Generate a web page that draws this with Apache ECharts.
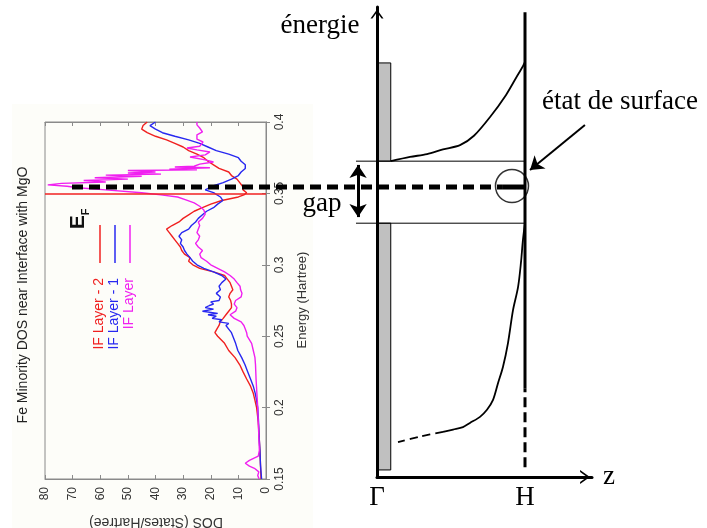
<!DOCTYPE html>
<html><head><meta charset="utf-8">
<script src="https://cdn.jsdelivr.net/npm/echarts@6/dist/echarts.min.js"></script>
<style>html,body{margin:0;padding:0;background:#fff}#c{width:707px;height:528px}</style>
</head><body><div id="c"></div>
<script>
// ---------- DOS panel data: [energy (Hartree), DOS (states/Hartree)] ----------
const ifLayer2 = [[0.150,1.8],[0.155,1.9],[0.160,2.0],[0.170,2.2],[0.180,2.5],[0.190,2.8],[0.200,3.4],[0.205,4.0],[0.210,4.6],[0.215,5.6],[0.220,7.0],[0.225,8.3],[0.230,9.5],[0.235,11.2],[0.240,13.5],[0.245,15.0],[0.250,17.5],[0.2525,18.5],[0.255,17.8],[0.2575,17.0],[0.260,16.6],[0.2625,15.5],[0.265,14.5],[0.2675,13.5],[0.270,12.5],[0.2725,12.5],[0.275,12.8],[0.2775,13.5],[0.280,13.0],[0.2825,12.0],[0.285,12.5],[0.2875,13.0],[0.290,14.0],[0.2925,15.0],[0.295,19.0],[0.2975,24.0],[0.300,26.5],[0.3025,28.0],[0.305,27.5],[0.3075,29.5],[0.310,30.5],[0.3125,31.0],[0.315,32.0],[0.3175,33.0],[0.320,34.0],[0.3225,35.0],[0.325,36.0],[0.3275,34.0],[0.330,31.5],[0.3325,30.0],[0.335,28.0],[0.3375,26.0],[0.340,23.0],[0.3425,20.0],[0.345,16.0],[0.3475,10.0],[0.349,8.0],[0.3505,7.0],[0.3525,8.3],[0.355,8.5],[0.3575,9.5],[0.360,10.5],[0.3625,12.5],[0.365,13.5],[0.3675,17.0],[0.370,19.0],[0.3725,21.0],[0.375,22.5],[0.3775,25.0],[0.380,28.0],[0.3825,30.0],[0.385,33.0],[0.3875,36.0],[0.390,40.0],[0.3925,43.0],[0.395,45.0],[0.3975,44.5],[0.400,43.0]];
const ifLayer1 = [[0.150,1.6],[0.155,1.8],[0.160,2.0],[0.170,2.2],[0.180,2.5],[0.190,2.7],[0.200,3.0],[0.205,3.4],[0.210,3.9],[0.215,4.6],[0.220,5.6],[0.225,6.6],[0.230,7.6],[0.235,8.8],[0.240,10.2],[0.245,11.0],[0.250,12.0],[0.2525,12.5],[0.255,13.5],[0.2575,14.5],[0.259,13.5],[0.260,17.0],[0.2615,16.0],[0.2625,19.5],[0.264,18.0],[0.265,21.0],[0.266,17.5],[0.2675,23.0],[0.269,19.0],[0.270,22.0],[0.2715,20.5],[0.2725,19.0],[0.274,20.0],[0.275,17.0],[0.2775,16.5],[0.280,18.0],[0.2825,16.5],[0.285,17.0],[0.2875,16.0],[0.290,14.5],[0.2925,16.0],[0.295,19.0],[0.2975,22.5],[0.300,25.0],[0.3025,26.5],[0.305,27.5],[0.3075,28.6],[0.310,29.5],[0.3125,30.0],[0.315,31.0],[0.3175,30.5],[0.320,31.5],[0.3225,30.5],[0.325,28.0],[0.3275,27.0],[0.330,25.5],[0.3325,24.5],[0.335,23.0],[0.3375,21.5],[0.340,19.0],[0.3425,17.5],[0.345,15.6],[0.3475,16.5],[0.3505,19.0],[0.3525,22.0],[0.355,19.5],[0.3575,15.5],[0.360,12.5],[0.3625,10.0],[0.365,9.0],[0.3675,7.5],[0.370,7.5],[0.3725,9.0],[0.375,10.0],[0.3775,13.5],[0.380,18.0],[0.3825,21.0],[0.385,24.0],[0.3875,28.0],[0.390,33.0],[0.3925,37.5],[0.395,40.0],[0.3975,42.0],[0.400,40.0]];
const ifLayer = [[0.150,2.5],[0.1525,3.0],[0.155,2.6],[0.1575,4.2],[0.159,6.0],[0.161,7.5],[0.163,6.0],[0.1645,4.5],[0.166,2.8],[0.170,2.4],[0.180,2.6],[0.190,2.8],[0.200,3.0],[0.210,3.3],[0.220,3.6],[0.230,3.8],[0.235,4.0],[0.240,4.6],[0.245,5.2],[0.250,6.8],[0.2525,7.0],[0.255,7.5],[0.2575,8.0],[0.260,9.0],[0.2625,11.5],[0.265,13.0],[0.2675,11.0],[0.270,10.5],[0.2725,11.5],[0.275,11.0],[0.2775,9.0],[0.280,8.7],[0.2825,9.2],[0.285,9.4],[0.2875,10.5],[0.290,11.5],[0.2925,13.0],[0.295,15.0],[0.2975,17.5],[0.300,20.0],[0.3025,21.5],[0.305,23.5],[0.3075,24.0],[0.310,23.0],[0.3125,24.5],[0.315,25.5],[0.3175,24.5],[0.320,24.0],[0.3225,25.0],[0.325,24.5],[0.3275,24.0],[0.330,24.5],[0.3325,23.0],[0.3355,22.0],[0.3384,22.5],[0.341,24.0],[0.3433,26.0],[0.3455,29.0],[0.3475,32.0],[0.349,38.0],[0.3505,45.0],[0.3525,58.0],[0.354,68.0],[0.355,72.0],[0.356,79.0],[0.357,74.0],[0.358,58.0],[0.359,66.0],[0.360,50.0],[0.361,62.0],[0.362,45.0],[0.3628,58.0],[0.3635,38.0],[0.3643,50.0],[0.365,40.0],[0.366,50.0],[0.3665,25.0],[0.367,35.0],[0.368,20.3],[0.3685,33.0],[0.369,26.0],[0.3705,24.0],[0.372,19.0],[0.3735,22.0],[0.3755,27.5],[0.377,22.0],[0.379,20.3],[0.3805,25.0],[0.3818,28.6],[0.383,24.0],[0.386,22.8],[0.388,25.0],[0.391,25.0],[0.393,23.0],[0.3958,24.0],[0.398,25.0],[0.400,25.0]];
const fermiEnergy = 0.3505;
const seriesNames = ['IF Layer - 2', 'IF Layer - 1', 'IF Layer'];
const dosTicks = [0, 10, 20, 30, 40, 50, 60, 70, 80];
const energyTicks = [0.15, 0.2, 0.25, 0.3, 0.35, 0.4];

// ---------- schematic data (x: Γ = 0, H = 1 ; y: arbitrary energy units 0..100) ----------
const kLabels = ['Γ', 'H'];
const gapBottom = 54.0, gapTop = 67.2, fermiLevelSchematic = 61.7;
const bulkBands = [[0, 0.093, 1.5, gapBottom], [0, 0.093, gapTop, 88.1]];
const upperBand = [[0.093,67.2],[0.223,68.1],[0.338,68.7],[0.446,69.7],[0.561,70.6],[0.655,72.6],[0.764,76.6],[0.872,81.3],[0.939,84.9],[0.986,87.4],[1.0,88.3]];
const lowerBand = [[1.0,54.0],[0.986,50.4],[0.973,45.7],[0.953,40.4],[0.919,35.5],[0.885,28.5],[0.851,23.4],[0.818,20.0],[0.784,16.4],[0.743,14.3],[0.696,12.8],[0.628,11.5],[0.581,10.6],[0.514,10.1],[0.446,9.6]];
const lowerBandDashed = [[0.446,9.6],[0.291,8.6],[0.142,7.4]];
const hLineSolid = [[1, 18.9], [1, 98.9]];
const hLineDashed = [[1, 2.1], [1, 18.9]];
const gapLineStart = -0.142;
const fermiLineDashed = [[-2.061, fermiLevelSchematic], [0.845, fermiLevelSchematic]];
const fermiLineSolid = [[0.845, fermiLevelSchematic], [1, fermiLevelSchematic]];
const surfaceState = [[0.912, 61.9]];
const gapArrow = [[-0.128, 55.3], [-0.128, 66.4]];
const surfaceArrow = [[1.405, 74.9], [1.034, 65.3]];
const schematicXRange = [0, 1.4527];
const overlayXRange = [-2.061, 1.4527];

const serif = '"Liberation Serif", "Times New Roman", serif';
const sans = '"Liberation Sans", Arial, Helvetica, sans-serif';
const colors = ['#f02020', '#2828f0', '#f020f0'];
const chevron = 'path://M10,0 L20,14 L17.05,14 L10,4.12 L2.95,14 L0,14 Z';

const chart = echarts.init(document.getElementById('c'), null, {renderer: 'canvas'});

function dosSeries(arr, idx) {
  const s = {
    name: seriesNames[idx], type: 'line', xAxisIndex: 0, yAxisIndex: 0,
    data: arr.map(p => [p[1], p[0]]),
    showSymbol: false, symbol: 'none', silent: true,
    lineStyle: {color: colors[idx], width: 1.4}, z: 3
  };
  if (idx === 0) {
    s.markLine = {silent: true, symbol: 'none', label: {show: false},
      lineStyle: {color: colors[0], width: 1.6, type: 'solid'},
      data: [{yAxis: fermiEnergy}]};
  }
  return s;
}

// axis indices: 2 = schematic grid (Γ..H), 3 = wide overlay grid sharing the same scale
function schemLine(data, style, extra, axisIdx) {
  const a = axisIdx == null ? 2 : axisIdx;
  return Object.assign({type: 'line', xAxisIndex: a, yAxisIndex: a, data: data,
    showSymbol: false, symbol: 'none', silent: true, clip: false,
    lineStyle: Object.assign({color: '#000', width: 1}, style)}, extra || {});
}

const leftAxisCommon = {
  axisLine: {show: true, lineStyle: {color: '#8a8a8a', width: 1}},
  axisTick: {show: true, inside: true, length: 4, lineStyle: {color: '#8a8a8a'}},
  splitLine: {show: false}
};

const legendLines = [100, 115, 130];
const graphics = [
  {type: 'rect', z: -100, silent: true, shape: {x: 12, y: 104, width: 301, height: 424}, style: {fill: '#fdfdf9'}},
  {type: 'text', x: 23, y: 295, rotation: Math.PI / 2, silent: true,
   style: {text: 'Fe Minority DOS near Interface with MgO', fontSize: 14, fontFamily: sans, fill: '#222', align: 'center', verticalAlign: 'middle'}},
  {type: 'text', x: 302.5, y: 300, rotation: Math.PI / 2, silent: true,
   style: {text: 'Energy (Hartree)', fontSize: 13, fontFamily: sans, fill: '#333', align: 'center', verticalAlign: 'middle'}},
  {type: 'text', x: 156, y: 522, rotation: Math.PI, silent: true,
   style: {text: 'DOS (States/Hartree)', fontSize: 14, fontFamily: sans, fill: '#333', align: 'center', verticalAlign: 'middle'}},
  {type: 'text', x: 78, y: 219, rotation: Math.PI / 2, silent: true,
   style: {text: '{e|E}{f|F}', align: 'center', verticalAlign: 'middle',
     rich: {e: {fontSize: 21, fontWeight: 'bold', fontFamily: sans, fill: '#111'},
            f: {fontSize: 11, fontWeight: 'bold', fontFamily: sans, fill: '#111', verticalAlign: 'bottom', padding: [0, 0, -3, 0]}}}},
  {type: 'text', x: 320, y: 25.5, silent: true,
   style: {text: 'énergie', fontSize: 27, fontFamily: serif, fill: '#000', align: 'center', verticalAlign: 'middle'}},
  {type: 'text', x: 322, y: 203.5, silent: true,
   style: {text: 'gap', fontSize: 27, fontFamily: serif, fill: '#000', align: 'center', verticalAlign: 'middle'}},
  {type: 'text', x: 620, y: 101.5, silent: true,
   style: {text: 'état de surface', fontSize: 27, fontFamily: serif, fill: '#000', align: 'center', verticalAlign: 'middle'}}
];
seriesNames.forEach((n, i) => {
  graphics.push({type: 'line', silent: true, shape: {x1: legendLines[i], y1: 225, x2: legendLines[i], y2: 263},
    style: {stroke: colors[i], lineWidth: 1.5}});
  graphics.push({type: 'text', x: legendLines[i] - 1, y: 278, rotation: Math.PI / 2, silent: true,
    style: {text: n, fontSize: 14, fontFamily: sans, fill: colors[i], align: 'right', verticalAlign: 'middle'}});
});

const hiddenAxis = {show: false, axisLine: {show: false}, axisTick: {show: false}, axisLabel: {show: false}, splitLine: {show: false}};

const option = {
  animation: false,
  backgroundColor: '#ffffff',
  graphic: graphics,
  grid: [
    {left: 45, top: 122, width: 221, height: 357, show: true, borderColor: '#8a8a8a', borderWidth: 1, backgroundColor: 'transparent'},
    {left: 377, top: 7, width: 215, height: 470},
    {left: 72, top: 7, width: 520, height: 470}
  ],
  xAxis: [
    Object.assign({gridIndex: 0, type: 'value', min: dosTicks[0], max: dosTicks[dosTicks.length - 1], interval: 10, inverse: true, position: 'bottom',
      axisLabel: {rotate: 90, fontSize: 12, fontFamily: sans, color: '#333', margin: 8}}, leftAxisCommon),
    Object.assign({gridIndex: 0, type: 'value', min: dosTicks[0], max: dosTicks[dosTicks.length - 1], interval: 10, inverse: true, position: 'top',
      axisLabel: {show: false}}, leftAxisCommon),
    {gridIndex: 1, type: 'value', min: schematicXRange[0], max: schematicXRange[1], interval: 1, z: 5,
      axisLine: {show: true, onZero: false, symbol: ['none', chevron], symbolSize: [14, 15], symbolOffset: [0, -7], lineStyle: {color: '#000', width: 3}},
      axisTick: {show: false}, splitLine: {show: false},
      axisLabel: {fontFamily: serif, fontSize: 27, color: '#000', margin: 7,
        formatter: v => Math.abs(v) < 1e-6 ? kLabels[0] : (Math.abs(v - 1) < 1e-6 ? kLabels[1] : '')},
      name: 'z', nameLocation: 'end', nameGap: 11,
      nameTextStyle: {fontFamily: serif, fontSize: 27, color: '#000', verticalAlign: 'middle', padding: [0, 0, 5, 0]}},
    Object.assign({gridIndex: 2, type: 'value', min: overlayXRange[0], max: overlayXRange[1]}, hiddenAxis)
  ],
  yAxis: [
    Object.assign({gridIndex: 0, type: 'value', min: energyTicks[0], max: energyTicks[energyTicks.length - 1], interval: 0.05, position: 'right',
      axisLabel: {rotate: 90, fontSize: 12, fontFamily: sans, color: '#333', margin: 8,
        formatter: v => String(Math.round(v * 100) / 100)}}, leftAxisCommon),
    Object.assign({gridIndex: 0, type: 'value', min: energyTicks[0], max: energyTicks[energyTicks.length - 1], interval: 0.05, position: 'left',
      axisLabel: {show: false}}, leftAxisCommon),
    {gridIndex: 1, type: 'value', min: 0, max: 100, z: 5,
      axisLine: {show: true, onZero: false, symbol: ['none', chevron], symbolSize: [13, 15], symbolOffset: [0, -7], lineStyle: {color: '#000', width: 3}},
      axisTick: {show: false}, axisLabel: {show: false}, splitLine: {show: false}},
    Object.assign({gridIndex: 2, type: 'value', min: 0, max: 100}, hiddenAxis)
  ],
  series: [
    dosSeries(ifLayer2, 0),
    dosSeries(ifLayer1, 1),
    dosSeries(ifLayer, 2),
    {type: 'custom', xAxisIndex: 2, yAxisIndex: 2, silent: true, z: 2, data: bulkBands,
      encode: {x: [0, 1], y: [2, 3]},
      renderItem: function (params, api) {
        const p0 = api.coord([api.value(0), api.value(3)]);
        const p1 = api.coord([api.value(1), api.value(2)]);
        return {type: 'rect', shape: {x: p0[0], y: p0[1], width: p1[0] - p0[0], height: p1[1] - p0[1]},
          style: {fill: '#c0c0c0', stroke: '#000', lineWidth: 1}};
      }},
    schemLine([[gapLineStart, gapBottom], [1, gapBottom]], {width: 1},
      {markLine: {silent: true, symbol: ['arrow', 'arrow'], symbolSize: 13, label: {show: false},
        lineStyle: {color: '#000', width: 3, type: 'solid'},
        data: [[{coord: gapArrow[0]}, {coord: gapArrow[1]}]]}}, 3),
    schemLine([[gapLineStart, gapTop], [1, gapTop]], {width: 1}, null, 3),
    schemLine(upperBand, {width: 1.8}, {smooth: 0.3}),
    schemLine(lowerBand, {width: 1.8}, {smooth: 0.3}),
    schemLine(lowerBandDashed, {width: 1.8, type: [8, 5]}, {smooth: 0.3}),
    schemLine(hLineSolid, {width: 3}),
    schemLine(hLineDashed, {width: 3, type: [10, 5]}),
    schemLine(fermiLineDashed, {width: 5, type: [11, 6]}, {z: 4}, 3),
    schemLine(fermiLineSolid, {width: 5}, {z: 4}, 3),
    {type: 'scatter', xAxisIndex: 2, yAxisIndex: 2, data: surfaceState, silent: true, clip: false,
      symbol: 'circle', symbolSize: 33, z: 4,
      itemStyle: {color: 'rgba(0,0,0,0)', borderColor: '#000', borderWidth: 1.5},
      markLine: {silent: true, symbol: ['none', 'arrow'], symbolSize: 13, label: {show: false},
        lineStyle: {color: '#000', width: 2, type: 'solid'},
        data: [[{coord: surfaceArrow[0]}, {coord: surfaceArrow[1]}]]}}
  ]
};
chart.setOption(option);
</script></body></html>
